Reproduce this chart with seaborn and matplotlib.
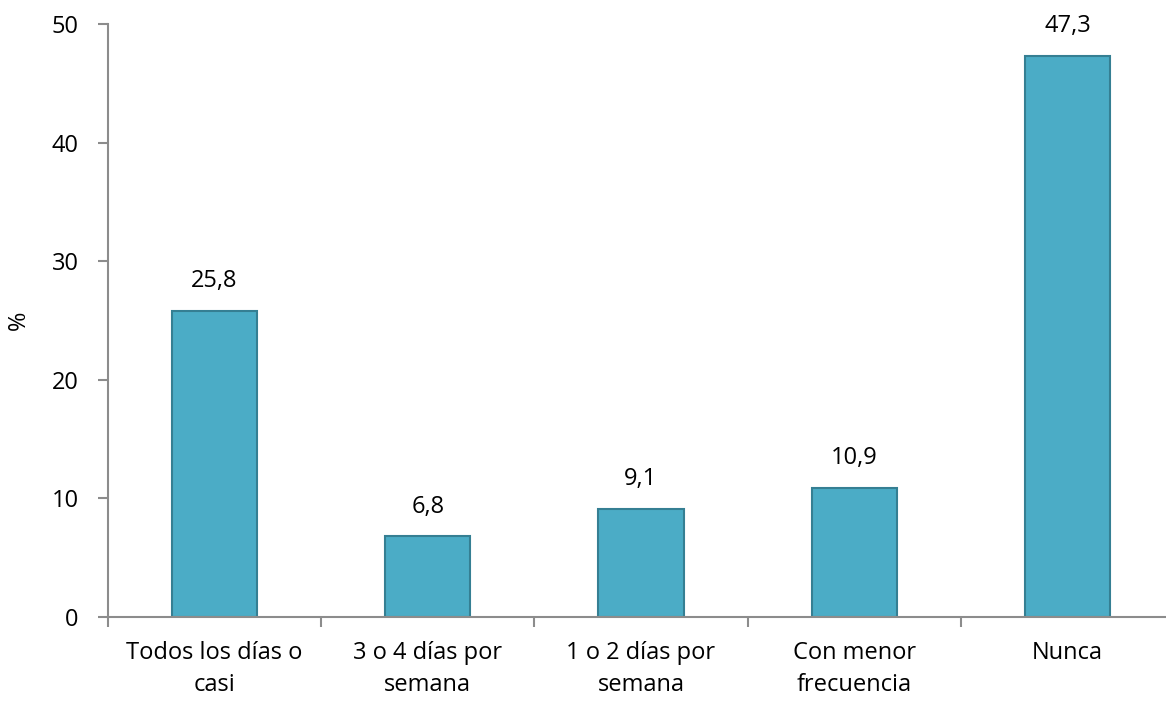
import matplotlib
matplotlib.use("Agg")
import matplotlib.pyplot as plt
import seaborn as sns
import pandas as pd

categories = ["Todos los días o\ncasi", "3 o 4 días por\nsemana", "1 o 2 días por\nsemana",
              "Con menor\nfrecuencia", "Nunca"]
values = [25.8, 6.8, 9.1, 10.9, 47.3]
labels = ["25,8", "6,8", "9,1", "10,9", "47,3"]

sns.set_style("white")
plt.rcParams['font.family'] = ['Open Sans', 'DejaVu Sans']
plt.rcParams['text.color'] = 'black'
plt.rcParams['xtick.color'] = '#8C8C8C'
plt.rcParams['ytick.color'] = '#8C8C8C'
plt.rcParams['xtick.labelcolor'] = 'black'
plt.rcParams['ytick.labelcolor'] = 'black'

fs = 17

df = pd.DataFrame({"cat": categories, "val": values})

fig = plt.figure(figsize=(11.66, 7.02), dpi=100)
ax = fig.add_axes([108 / 1166, 85 / 702, 1066 / 1166, 593 / 702])
sns.barplot(data=df, x="cat", y="val", color="#4BACC6", saturation=1, width=0.4,
            edgecolor="#357F93", linewidth=1.5, ax=ax)

for i, (v, t) in enumerate(zip(values, labels)):
    ax.text(i, v + 1.5, t, ha="center", va="bottom", fontsize=fs, color="black")

ax.set_ylim(0, 50)
ax.set_xlim(-0.5, 4.5)
ax.set_yticks(range(0, 51, 10))
ax.set_xticks([x - 0.5 for x in range(6)], minor=True)
ax.set_xlabel("")
ax.set_ylabel("%", fontsize=fs, color="black")
ax.yaxis.set_label_coords(-0.072, 0.5)
ax.tick_params(axis="x", which="major", bottom=False, labelsize=fs, pad=14)
ax.tick_params(axis="x", which="minor", bottom=True, length=7, width=1.5, direction="out")
ax.tick_params(axis="y", left=True, length=7, width=1.5, direction="out", labelsize=fs, pad=14)
for lbl in ax.get_xticklabels():
    lbl.set_linespacing(1.4)
for s in ["top", "right"]:
    ax.spines[s].set_visible(False)
for s in ["left", "bottom"]:
    ax.spines[s].set_color("#8C8C8C")
    ax.spines[s].set_linewidth(1.5)

fig.savefig("out.png", dpi=100)
